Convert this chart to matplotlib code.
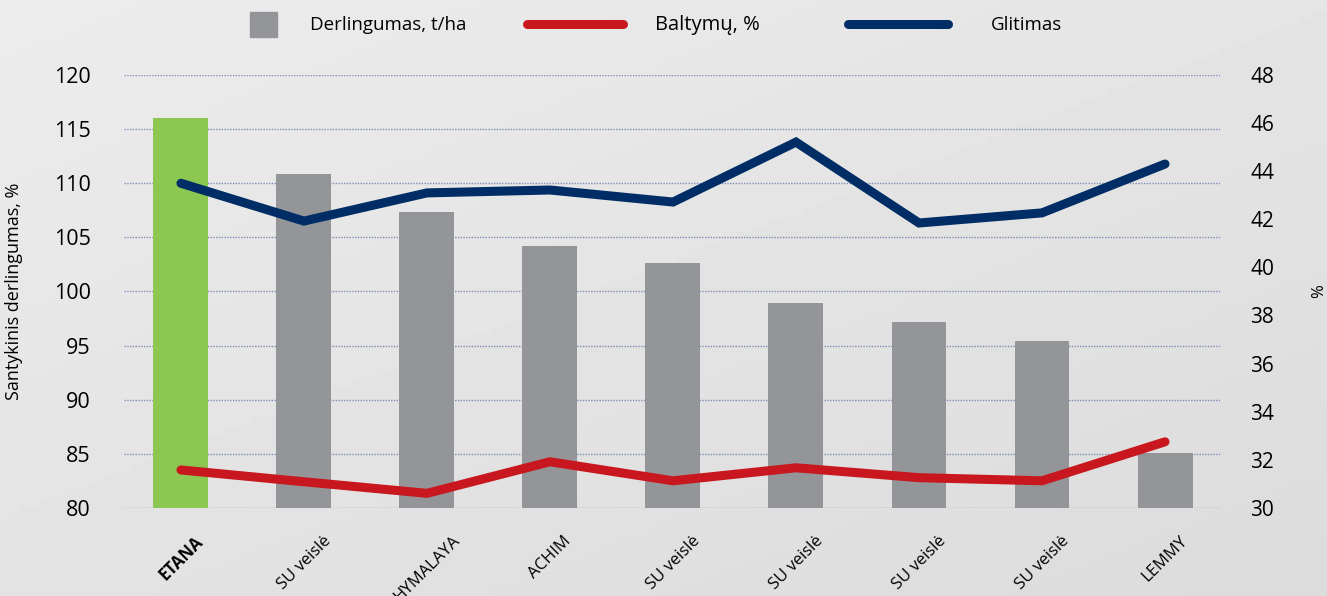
import numpy as np
import matplotlib
matplotlib.use("Agg")
import matplotlib.pyplot as plt
from matplotlib.patches import Rectangle
from matplotlib.lines import Line2D

plt.rcParams['font.family'] = ['Open Sans', 'DejaVu Sans']

# data
varieties = ["ETANA", "SU veislė", "HYMALAYA", "ACHIM", "SU veislė",
             "SU veislė", "SU veislė", "SU veislė", "LEMMY"]
yield_rel = [116.0, 110.8, 107.3, 104.2, 102.6, 98.9, 97.2, 95.4, 85.1]
protein = [31.58, 31.09, 30.61, 31.92, 31.13, 31.67, 31.26, 31.13, 32.75]
gluten = [43.49, 41.92, 43.09, 43.21, 42.71, 45.2, 41.84, 42.26, 44.29]

left_ticks = [80, 85, 90, 95, 100, 105, 110, 115, 120]
right_ticks = [30, 32, 34, 36, 38, 40, 42, 44, 46, 48]

GREEN = "#8cc751"
GRAY = "#939598"
RED = "#c8171e"
NAVY = "#002d65"
GRID = "#7f8db8"

W, H = 1327, 596
fig = plt.figure(figsize=(W / 100, H / 100), dpi=100)

# soft grey gradient background
bg = fig.add_axes([0, 0, 1, 1], zorder=-10)
gx = np.linspace(0, 1, 200)[None, :]
gy = np.linspace(0, 1, 100)[:, None]
grad = 0.925 - 0.03 * gx - 0.035 * gy
bg.imshow(grad, cmap="gray", vmin=0, vmax=1, aspect="auto", extent=[0, 1, 0, 1])
bg.set_axis_off()

ax = fig.add_axes([124 / W, 1 - 508 / H, (1220 - 124) / W, (508 - 74.7) / H])
ax.patch.set_alpha(0)
x = np.arange(len(varieties))
colors = [GREEN] + [GRAY] * (len(varieties) - 1)
ax.bar(x, yield_rel, width=0.447, color=colors, zorder=2)
ax.set_xlim(-0.463, 8.447)
ax.set_ylim(80, 120)
ax.set_yticks(left_ticks)
ax.yaxis.grid(True, color=GRID, linestyle=(0, (1, 1)), linewidth=1.0, zorder=0)
ax.set_axisbelow(True)
for s in ax.spines.values():
    s.set_visible(False)
ax.tick_params(axis="y", length=0, pad=24, labelsize=15.5)
ax.tick_params(axis="x", length=0, pad=18)
ax.set_xticks(x)
ax.set_xticklabels(varieties, rotation=45, ha="center", va="top", fontsize=12)
ax.get_xticklabels()[0].set_fontweight("bold")
ax.set_ylabel("Santykinis derlingumas, %", fontsize=13, labelpad=22)

ax2 = ax.twinx()
ax2.set_ylim(30, 48)
ax2.set_yticks(right_ticks)
for s in ax2.spines.values():
    s.set_visible(False)
ax2.tick_params(axis="y", length=0, pad=22, labelsize=15)
ax2.plot(x, protein, color=RED, linewidth=6.5, solid_capstyle="round",
         solid_joinstyle="miter", zorder=3)
ax2.plot(x, gluten, color=NAVY, linewidth=6.5, solid_capstyle="round",
         solid_joinstyle="miter", zorder=3)
ax2.set_ylabel("%", fontsize=12, rotation=90)
ax2.yaxis.set_label_coords(1.083, 0.5)

# legend drawn on top of the figure
fig.add_artist(Rectangle((250 / W, 1 - 37 / H), 27 / W, 25 / H,
                         color=GRAY, transform=fig.transFigure))
fig.text(310 / W, 1 - 25 / H, "Derlingumas, t/ha", fontsize=13.5, va="center")
fig.add_artist(Line2D([527 / W, 623 / W], [1 - 24 / H, 1 - 24 / H], color=RED,
                      linewidth=6.5, solid_capstyle="round",
                      transform=fig.transFigure))
fig.text(655 / W, 1 - 25 / H, "Baltymų, %", fontsize=14.5, va="center")
fig.add_artist(Line2D([848 / W, 948 / W], [1 - 24 / H, 1 - 24 / H], color=NAVY,
                      linewidth=6.5, solid_capstyle="round",
                      transform=fig.transFigure))
fig.text(991 / W, 1 - 25 / H, "Glitimas", fontsize=13.5, va="center")

fig.savefig("out.png", dpi=100)
